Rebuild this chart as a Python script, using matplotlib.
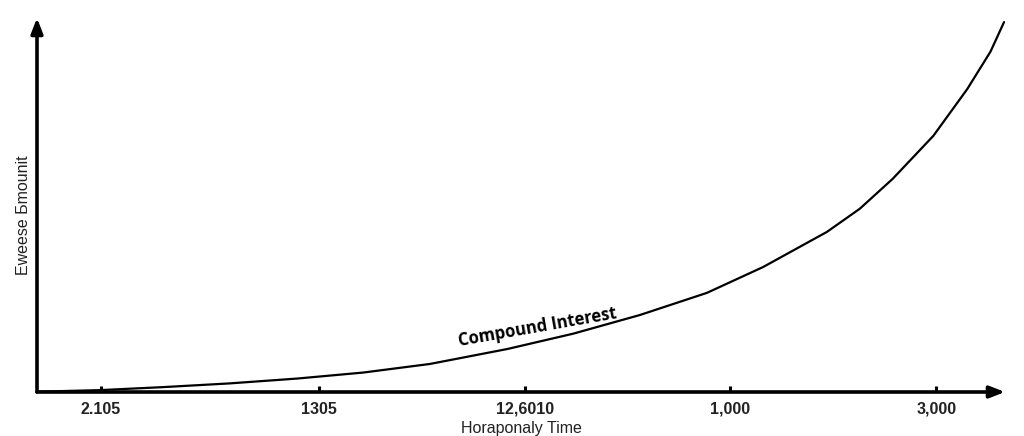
import numpy as np
import matplotlib.pyplot as plt

# tick positions (0-100 time units) and labels on the time axis
tick_pos = [6.6, 29.1, 50.4, 71.6, 92.9]
tick_labels = ["2.105", "1305", "12,6010", "1,000", "3,000"]

# curve (x: 0-100 time units, y: 0-100 amount units)
curve_x = [0.3, 6.5, 13.0, 19.9, 26.9, 33.7, 40.6, 44.0, 48.6, 55.4, 62.3,
           69.2, 75.0, 81.6, 85.0, 88.4, 92.6, 96.1, 98.5, 99.9]
curve_y = [0.1, 0.5, 1.3, 2.3, 3.6, 5.2, 7.5, 9.2, 11.5, 15.6, 20.6,
           26.5, 33.4, 42.8, 49.0, 57.0, 68.5, 81.0, 91.0, 98.9]

W, H = 1024, 436
fig = plt.figure(figsize=(W / 100, H / 100), dpi=100)
ax = fig.add_axes([37 / W, (H - 392) / H, (1005 - 37) / W, (392 - 18) / H])
ax.set_xlim(0, 100)
ax.set_ylim(0, 100)
for s in ax.spines.values():
    s.set_visible(False)

# axis arrows
arrow = dict(arrowstyle="-|>,head_length=0.9,head_width=0.35",
             lw=2.6, color="black", shrinkA=0, shrinkB=0)
ax.annotate("", xy=(1, 0), xytext=(0, 0), xycoords="axes fraction",
            arrowprops=arrow, annotation_clip=False)
ax.annotate("", xy=(0, 1), xytext=(0, 0), xycoords="axes fraction",
            arrowprops=arrow, annotation_clip=False)

ax.plot(curve_x, curve_y, color="black", lw=1.6, solid_joinstyle="round",
        solid_capstyle="round")

ax.text(51.7, 17.4, "Compound Interest", rotation=10, rotation_mode="anchor",
        ha="center", va="center", fontsize=12, fontweight="bold",
        family="Open Sans")

ax.set_xticks(tick_pos)
ax.set_xticklabels(tick_labels, fontweight="bold", fontsize=11.5,
                   family="Liberation Sans", color="#222222")
ax.set_yticks([])
ax.tick_params(axis="x", direction="in", length=4.5, width=2.2, pad=7)

ax.set_xlabel("Horaponaly Time", fontsize=11.5, family="Liberation Sans",
              color="#222222", labelpad=3)
fig.text(24 / W, 1 - 215 / H, "Eweese Бmounit", rotation=90, ha="center",
         va="center", fontsize=11.5, family="Liberation Sans", color="#222222")

fig.savefig("out.png", dpi=100)
